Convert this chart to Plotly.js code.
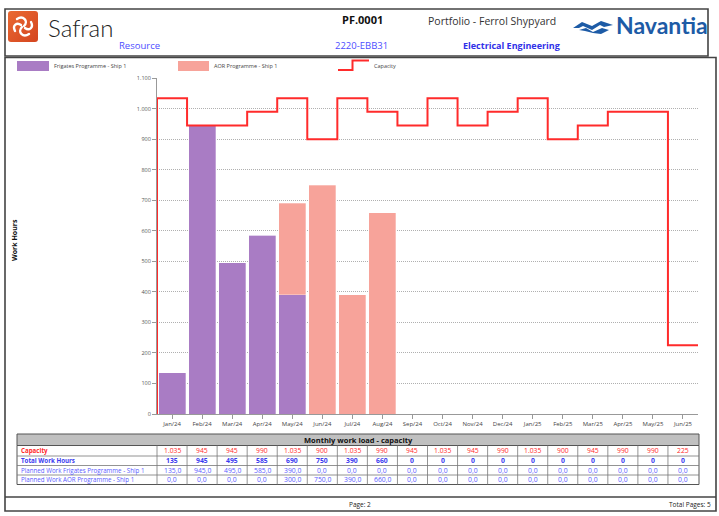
<!DOCTYPE html>
<html>
<head>
<meta charset="utf-8">
<script src="https://cdn.plot.ly/plotly-3.0.1.min.js"></script>
<style>html,body{margin:0;padding:0;background:#fff;}#chart{width:719px;height:516px;}</style>
</head>
<body>
<div id="chart"></div>
<script>
// ---------- data ----------
const months = ['Jan/24','Feb/24','Mar/24','Apr/24','May/24','Jun/24','Jul/24','Aug/24','Sep/24','Oct/24','Nov/24','Dec/24','Jan/25','Feb/25','Mar/25','Apr/25','May/25','Jun/25'];
const capacity = [1035,945,945,990,1035,900,1035,990,945,1035,945,990,1035,900,945,990,990,225];
const frigates = [135,945,495,585,390,0,0,0,0,0,0,0,0,0,0,0,0,0];
const aor      = [0,0,0,0,300,750,390,660,0,0,0,0,0,0,0,0,0,0];
const seriesNames = ['Frigates Programme - Ship 1','AOR Programme - Ship 1','Capacity'];
const rowLabels = ['Capacity','Total Work Hours','Planned Work Frigates Programme - Ship 1','Planned Work AOR Programme - Ship 1'];
const yTicks = [0,100,200,300,400,500,600,700,800,900,1000,1100];

// ---------- styles ----------
const FONT = 'Open Sans, Lato, sans-serif';
const PURPLE = '#a97cc4', PINK = '#f7a39a', RED = '#ff2b2b';
const BLUE = '#3a3af0', LBLUE = '#5a5aff';
const L = 157, R = 698, T = 78, B = 414;
const X = px => (px - L) / (R - L);
const Y = py => (B - py) / (B - T);
const idx = months.map((m, i) => i);

function fmtThousands(v){ return String(v).replace(/\B(?=(\d{3})+(?!\d))/g, '.'); }
function fmtDec(v){ return v.toFixed(1).replace('.', ','); }

// ---------- traces ----------
const traces = [
  {type:'bar', x: idx, y: frigates, name: seriesNames[0], marker:{color:PURPLE, line:{color:'rgba(255,255,255,0.5)', width:0.6}}, hoverinfo:'y'},
  {type:'bar', x: idx, y: aor, name: seriesNames[1], marker:{color:PINK, line:{color:'rgba(255,255,255,0.5)', width:0.6}}, hoverinfo:'y'}
];
// step line: rises from 0 at the left edge, one step per month, ends at right edge
const capX = [-0.5].concat(idx.map(i => i - 0.5)).concat([idx.length - 0.5]);
const capY = [0].concat(capacity).concat([capacity[capacity.length - 1]]);
traces.push({type:'scatter', mode:'lines', x: capX, y: capY, name: seriesNames[2], line:{color:RED, width:2, shape:'hv'}, cliponaxis:false, hoverinfo:'y'});

// ---------- decorations ----------
const shapes = [];
const annotations = [];
function line(x0,y0,x1,y1,color,width){ shapes.push({type:'line', xref:'paper', yref:'paper', x0:X(x0), y0:Y(y0), x1:X(x1), y1:Y(y1), line:{color:color, width:width}}); }
function rect(x0,y0,x1,y1,fill,lc,lw){ shapes.push({type:'rect', xref:'paper', yref:'paper', x0:X(x0), y0:Y(y0), x1:X(x1), y1:Y(y1), fillcolor:fill, line:{color:lc, width:lw}}); }
function text(t,x,y,opts){ annotations.push(Object.assign({text:t, xref:'paper', yref:'paper', x:X(x), y:Y(y), showarrow:false, xanchor:'left', yanchor:'middle', font:{family:FONT, size:8, color:'#222'}}, opts||{})); }

// page frames
rect(5, 9, 708, 56, 'rgba(0,0,0,0)', '#444', 1.6);
rect(5, 57.5, 716, 511, 'rgba(0,0,0,0)', '#444', 1.6);
line(5, 497, 716, 497, '#444', 1.6);

// header texts
text('Safran', 46, 27, {font:{family:'Lato, Open Sans, sans-serif', size:24, color:'#222', weight:300}});
text('Resource', 117, 45.5, {font:{family:FONT, size:9.5, color:'#4d4dff'}});
text('<b>PF.0001</b>', 340, 20, {font:{family:FONT, size:11, color:'#111'}});
text('2220-EBB31', 333, 45.5, {font:{family:FONT, size:9.5, color:'#4d4dff'}});
text('Portfolio - Ferrol Shypyard', 426, 20.5, {font:{family:FONT, size:10.5, color:'#333'}});
text('<b>Electrical Engineering</b>', 461, 45.5, {font:{family:FONT, size:9, color:'#3030e8'}});
text('<b>Navantia</b>', 614, 25, {font:{family:'Lato, Open Sans, sans-serif', size:23, color:'#1d5ba6'}});

// legend
rect(17, 61, 49, 71, PURPLE, 'rgba(255,255,255,0)', 0);
text(seriesNames[0], 52, 66, {font:{family:FONT, size:5.5, color:'#444'}});
rect(178, 61, 209, 71, PINK, 'rgba(255,255,255,0)', 0);
text(seriesNames[1], 212, 66, {font:{family:FONT, size:5.5, color:'#444'}});
shapes.push({type:'path', xref:'paper', yref:'paper', path:'M'+X(338)+','+Y(70)+' L'+X(352.5)+','+Y(70)+' L'+X(352.5)+','+Y(60.5)+' L'+X(369)+','+Y(60.5), line:{color:RED, width:2}});
text(seriesNames[2], 372, 66, {font:{family:FONT, size:5.5, color:'#444'}});

// y axis title
text('<b>Work Hours</b>', 15, 240, {textangle:-90, xanchor:'center', font:{family:FONT, size:7, color:'#111'}});

// table
const rowB = [434, 445.5, 456, 465.5, 475, 484.5];
rect(17, rowB[0], 699, rowB[1], '#c0c0c0', '#555', 1);
text('<b>Monthly work load - capacity</b>', 358, (rowB[0]+rowB[1])/2, {xanchor:'center', font:{family:FONT, size:7.5, color:'#111'}});
rect(17, rowB[1], 699, rowB[5], 'rgba(0,0,0,0)', '#555', 1);
for (let r = 2; r < 5; r++) line(17, rowB[r], 699, rowB[r], '#777', 0.8);
line(157, rowB[1], 157, rowB[5], '#777', 0.8);
for (let i = 1; i < months.length; i++) {
  shapes.push({type:'line', xref:'paper', yref:'paper', x0:i/months.length, x1:i/months.length, y0:Y(rowB[1]), y1:Y(rowB[5]), line:{color:'#777', width:0.8}});
}
const totals = idx.map(i => frigates[i] + aor[i]);
const rowVals = [capacity.map(fmtThousands), totals.map(String), frigates.map(fmtDec), aor.map(fmtDec)];
const rowColors = [RED, BLUE, LBLUE, LBLUE];
const rowBold = [false, true, false, false];
for (let r = 0; r < 4; r++) {
  const yc = (rowB[r+1] + rowB[r+2]) / 2;
  const lb = (r < 2) ? '<b>' + rowLabels[r] + '</b>' : rowLabels[r];
  text(lb, 19, yc, {font:{family:FONT, size:6.2, color:rowColors[r]}});
  rowVals[r].forEach((v, i) => {
    annotations.push({text: rowBold[r] ? '<b>'+v+'</b>' : v, xref:'x', yref:'paper', x:i, y:Y(yc), showarrow:false, xanchor:'center', yanchor:'middle', font:{family:FONT, size:6.8, color:rowColors[r]}});
  });
}

// footer
text('Page: 2', 360, 504, {xanchor:'center', font:{family:FONT, size:6.5, color:'#222'}});
text('Total Pages: 5', 713, 504, {xanchor:'right', font:{family:FONT, size:6.5, color:'#222'}});

// logos as inline svg
const safranSvg = '<svg xmlns="http://www.w3.org/2000/svg" viewBox="0 0 30 31"><defs><linearGradient id="g" x1="0" y1="0" x2="1" y2="1"><stop offset="0" stop-color="#ea6a33"/><stop offset="1" stop-color="#d4451f"/></linearGradient></defs><rect width="30" height="31" rx="3" fill="url(#g)"/><g fill="none" stroke="#fff" stroke-width="2.4" stroke-linecap="round"><path d="M9 8 C15 4 21 10 16 15"/><path d="M21 23 C15 27 9 21 14 16"/><path d="M7 20 C4 14 9 11 13 14"/><path d="M23 11 C26 17 21 20 17 17"/></g></svg>';
const navSvg = '<svg xmlns="http://www.w3.org/2000/svg" viewBox="0 0 40 17"><path fill="#1d5ba6" d="M0 10 L9 4 L19 8 L28 3 L40 7 L31 9 L27 7 L19 12 L10 8 L6 10 Z"/><path fill="#1d5ba6" d="M6 12 L13 10 L20 14 L29 10 L36 12 L28 16 L20 15 L12 13 Z"/></svg>';
const images = [
  {source:'data:image/svg+xml;charset=utf-8,' + encodeURIComponent(safranSvg), xref:'paper', yref:'paper', x:X(8), y:Y(11), sizex:30/(R-L), sizey:31/(B-T), xanchor:'left', yanchor:'top', sizing:'stretch', layer:'above'},
  {source:'data:image/svg+xml;charset=utf-8,' + encodeURIComponent(navSvg), xref:'paper', yref:'paper', x:X(573), y:Y(18), sizex:40/(R-L), sizey:17/(B-T), xanchor:'left', yanchor:'top', sizing:'stretch', layer:'above'}
];

const layout = {
  width:719, height:516,
  margin:{l:L, r:719-R, t:T, b:516-B, pad:0},
  paper_bgcolor:'#fff', plot_bgcolor:'#fff',
  showlegend:false,
  barmode:'stack', bargap:0.1,
  separators:',.',
  font:{family:FONT, size:6, color:'#444'},
  xaxis:{range:[-0.5, months.length - 0.5], tickmode:'array', tickvals:idx, ticktext:months, ticks:'outside', ticklen:4, tickcolor:'#999', showline:true, linecolor:'#999', linewidth:1, showgrid:false, zeroline:false, tickfont:{family:FONT, size:6, color:'#444'}, fixedrange:true},
  yaxis:{range:[0,1101], tickmode:'array', tickvals:yTicks, tickformat:',d', ticks:'outside', ticklen:4, tickcolor:'#999', showline:true, linecolor:'#999', linewidth:1, showgrid:true, gridcolor:'#b0b0b0', griddash:'1px,1px', gridwidth:1, zeroline:false, tickfont:{family:FONT, size:5.5, color:'#555'}, fixedrange:true},
  shapes:shapes, annotations:annotations, images:images
};

Plotly.newPlot('chart', traces, layout, {displayModeBar:false, staticPlot:true});
</script>
</body>
</html>
